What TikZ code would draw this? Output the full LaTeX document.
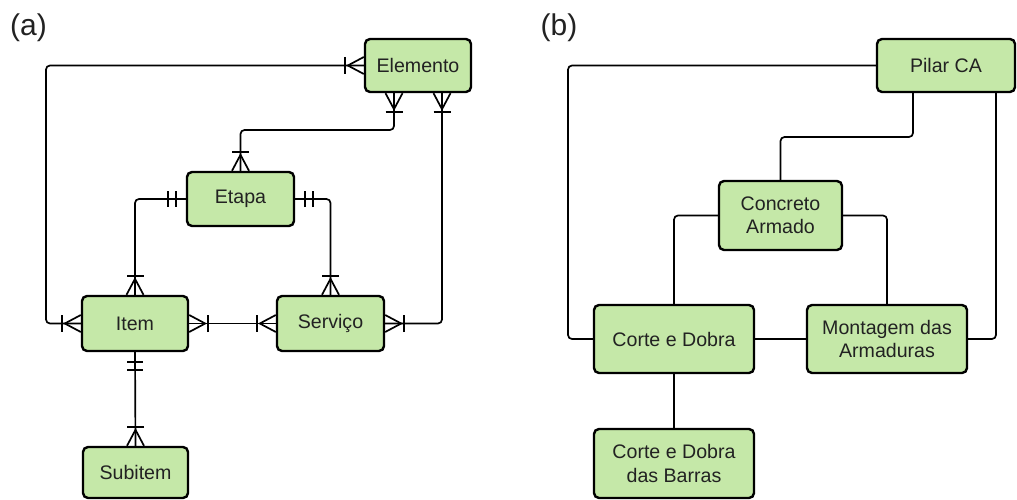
\documentclass[tikz,border=0pt]{standalone}
\usepackage{fontspec}
\setmainfont{Liberation Sans}
\usetikzlibrary{calc}
\definecolor{boxgreen}{HTML}{C5E8A8}
\definecolor{txt}{HTML}{222222}
\newcommand\crowfoot[3]{%
  \draw[conn] ($(#1)+({-8.5*(#3)},{8.5*(#2)})$) -- ($(#1)+({16*(#2)},{16*(#3)})$) -- ($(#1)+({8.5*(#3)},{-8.5*(#2)})$);
  \draw[conn] ($(#1)+({19*(#2)-8.5*(#3)},{19*(#3)+8.5*(#2)})$) -- ($(#1)+({19*(#2)+8.5*(#3)},{19*(#3)-8.5*(#2)})$);
}
\newcommand\dblbar[3]{%
  \draw[conn] ($(#1)+({10*(#2)-8*(#3)},{10*(#3)+8*(#2)})$) -- ($(#1)+({10*(#2)+8*(#3)},{10*(#3)-8*(#2)})$);
  \draw[conn] ($(#1)+({18*(#2)-8*(#3)},{18*(#3)+8*(#2)})$) -- ($(#1)+({18*(#2)+8*(#3)},{18*(#3)-8*(#2)})$);
}
\begin{document}
\begin{tikzpicture}[x=1pt,y=-1pt,
  ent/.style={draw=black, fill=boxgreen, line width=2.4pt, rounded corners=5pt,
    inner sep=0pt, align=center, text=txt,
    font=\fontsize{19.6}{23.5}\selectfont},
  conn/.style={draw=black, line width=1.7pt},
  wire/.style={conn, rounded corners=4pt},
  lab/.style={text=txt, font=\fontsize{30}{32}\selectfont, inner sep=0pt}]
\useasboundingbox (0,0) rectangle (1017,500);
% labels
\node[lab] (la) at (28.5,28) {(a)};
\node[lab] (lb) at (559,28) {(b)};
% ---------- (a) ----------
\node[ent, minimum width=106, minimum height=53] (elem) at (418,65.5) {Elemento};
\node[ent, minimum width=107, minimum height=54] (etapa) at (240.5,199) {Etapa};
\node[ent, minimum width=106, minimum height=55] (item) at (135,323.5) {Item};
\node[ent, minimum width=107, minimum height=55] (serv) at (330.5,323.5) {Serviço};
\node[ent, minimum width=105, minimum height=51] (sub) at (135.5,472.5) {Subitem};
\coordinate (xa) at (46,0);
\coordinate (ya) at (0,130);
\coordinate (eb1) at ($(elem.south)+(-24,0)$);
\coordinate (eb2) at ($(elem.south)+(24,0)$);
\draw[wire] (elem.west) -- (elem.west -| xa) -- (item.west -| xa) -- (item.west);
\draw[wire] (eb1) -- (eb1 |- ya) -- (etapa.north |- ya) -- (etapa.north);
\draw[wire] (eb2) |- (serv.east);
\draw[wire] (etapa.west) -| (item.north);
\draw[wire] (etapa.east) -| (serv.north);
\draw[wire] (item.east) -- (serv.west);
\draw[wire] (item.south) -- (sub.north);
\crowfoot{elem.west}{-1}{0}
\crowfoot{item.west}{-1}{0}
\crowfoot{eb1}{0}{1}
\crowfoot{etapa.north}{0}{-1}
\crowfoot{eb2}{0}{1}
\crowfoot{serv.east}{1}{0}
\dblbar{etapa.west}{-1}{0}
\crowfoot{item.north}{0}{-1}
\dblbar{etapa.east}{1}{0}
\crowfoot{serv.north}{0}{-1}
\crowfoot{item.east}{1}{0}
\crowfoot{serv.west}{-1}{0}
\dblbar{item.south}{0}{1}
\crowfoot{sub.north}{0}{-1}
% ---------- (b) ----------
\node[ent, minimum width=138, minimum height=53] (pilar) at (946,65.5) {Pilar CA};
\node[ent, minimum width=123, minimum height=69] (conc) at (780.5,215.5) {Concreto\\Armado};
\node[ent, minimum width=160, minimum height=68] (corte) at (674,339) {Corte e Dobra};
\node[ent, minimum width=160, minimum height=68] (mont) at (887,339) {Montagem das\\Armaduras};
\node[ent, minimum width=160, minimum height=69] (barras) at (674,463.5) {Corte e Dobra\\das Barras};
\coordinate (xb) at (568,0);
\coordinate (yb) at (0,137);
\coordinate (pb1) at ($(pilar.south)+(-33,0)$);
\coordinate (pb2) at ($(pilar.south)+(50,0)$);
\draw[wire] (pilar.west) -- (pilar.west -| xb) -- (corte.west -| xb) -- (corte.west);
\draw[wire] (pb1) -- (pb1 |- yb) -- (conc.north |- yb) -- (conc.north);
\draw[wire] (pb2) |- (mont.east);
\draw[wire] (conc.west) -| (corte.north);
\draw[wire] (conc.east) -| (mont.north);
\draw[wire] (corte.east) -- (mont.west);
\draw[wire] (corte.south) -- (barras.north);
\end{tikzpicture}
\end{document}
